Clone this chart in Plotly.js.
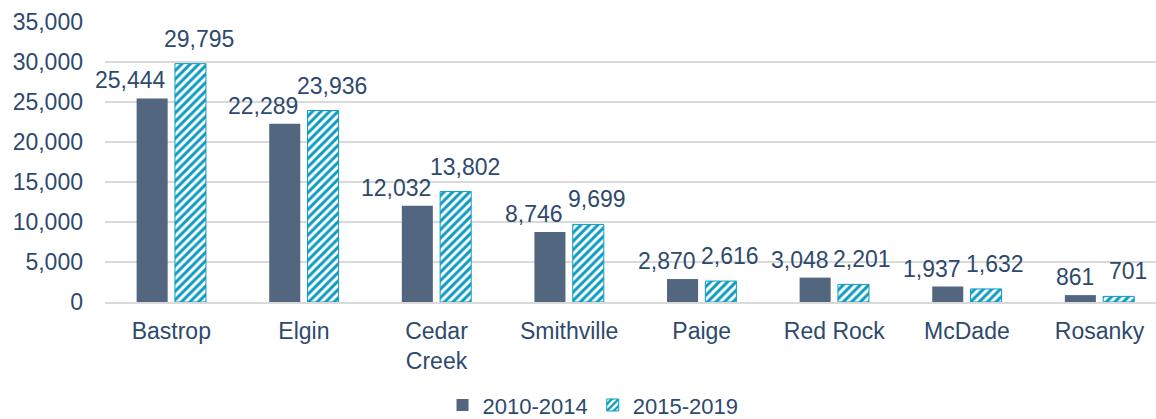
<!DOCTYPE html>
<html>
<head>
<meta charset="utf-8">
<script src="https://cdn.plot.ly/plotly-3.0.1.min.js"></script>
<style>
  html, body { margin: 0; padding: 0; background: #fff; }
  #graph { width: 1156px; height: 419px; }
</style>
</head>
<body>
<div id="graph"></div>
<script>
// places along the x axis
var places = ["Bastrop", "Elgin", "Cedar<br>Creek", "Smithville", "Paige", "Red Rock", "McDade", "Rosanky"];
// population estimates per period
var pop2010_2014 = [25444, 22289, 12032, 8746, 2870, 3048, 1937, 861];
var pop2015_2019 = [29795, 23936, 13802, 9699, 2616, 2201, 1632, 701];
var seriesNames = ["2010-2014", "2015-2019"];

var textColor = "#2d4a6e";
var fontFam = "Liberation Sans, Arial, sans-serif";
var darkColor = "#53667f";
var hatchColor = "#0e9bc1";

var bargap = 0.422, bargroupgap = 0.19;

var fmt = function (v) { return v.toLocaleString("en-US"); };

var trace1 = {
  type: "bar",
  name: seriesNames[0],
  x: places,
  y: pop2010_2014,
  marker: { color: darkColor, line: { color: darkColor, width: 0 } },
  hoverinfo: "none"
};

var trace2 = {
  type: "bar",
  name: seriesNames[1],
  x: places,
  y: pop2015_2019,
  marker: {
    color: hatchColor,
    line: { color: hatchColor, width: 1 },
    pattern: { shape: "/", fillmode: "replace", bgcolor: "#ffffff", fgcolor: hatchColor, size: 6, solidity: 0.5 }
  },
  hoverinfo: "none"
};

// value labels: the first series sits flush with the right side of its bar,
// the second is centred a little to the right of its bar
var slot = (1 - bargap) / 2;
var barW = slot * (1 - bargroupgap);
var annotations = [];
places.forEach(function (p, i) {
  annotations.push({
    x: i - slot / 2 + barW / 2, y: pop2010_2014[i], xref: "x", yref: "y",
    text: fmt(pop2010_2014[i]), showarrow: false,
    xanchor: "right", yanchor: "bottom", yshift: 3,
    font: { size: 23, color: textColor, family: fontFam }
  });
  annotations.push({
    x: i + slot / 2, y: pop2015_2019[i], xref: "x", yref: "y",
    text: fmt(pop2015_2019[i]), showarrow: false,
    xanchor: "center", yanchor: "bottom", xshift: 9, yshift: 10,
    font: { size: 23, color: textColor, family: fontFam }
  });
});

var layout = {
  width: 1156,
  height: 419,
  margin: { l: 105, r: 0, t: 22, b: 117, autoexpand: false },
  paper_bgcolor: "#ffffff",
  plot_bgcolor: "#ffffff",
  font: { family: fontFam, color: textColor, size: 23 },
  barmode: "group",
  bargap: bargap,
  bargroupgap: bargroupgap,
  annotations: annotations,
  xaxis: {
    range: [-0.5, 7.426],
    showgrid: false,
    showline: true,
    linecolor: "#d9d9d9",
    linewidth: 1.5,
    ticks: "",
    ticklabelstandoff: 8,
    tickfont: { size: 23, color: textColor },
    automargin: false,
    fixedrange: true
  },
  yaxis: {
    range: [0, 35000],
    dtick: 5000,
    tickformat: ",",
    showgrid: true,
    gridcolor: "#d9d9d9",
    gridwidth: 1.5,
    zeroline: false,
    ticks: "",
    ticklabelstandoff: 21,
    tickfont: { size: 23, color: textColor },
    automargin: false,
    fixedrange: true
  },
  legend: {
    orientation: "h",
    x: 0.513,
    xanchor: "center",
    xref: "container",
    y: 0.033,
    yanchor: "middle",
    yref: "container",
    font: { size: 22, color: textColor },
    itemwidth: 30,
    tracegroupgap: 0
  },
  showlegend: true
};

Plotly.newPlot("graph", [trace1, trace2], layout, { displayModeBar: false, staticPlot: true });
</script>
</body>
</html>
